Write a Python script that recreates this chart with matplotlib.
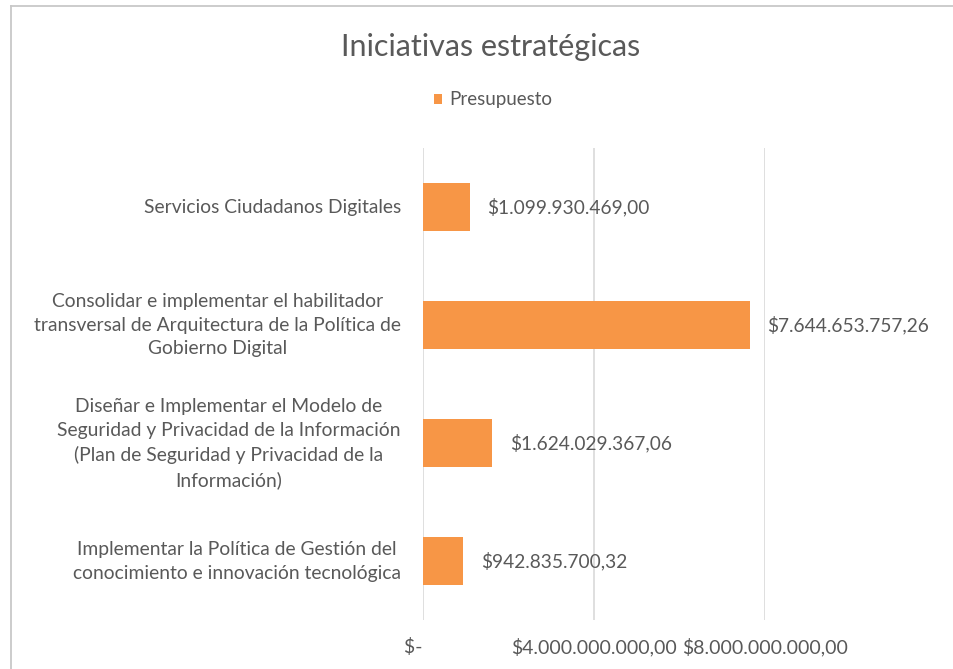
import matplotlib
matplotlib.use("Agg")
import matplotlib.pyplot as plt
from matplotlib.lines import Line2D
from matplotlib.transforms import ScaledTranslation

# Data
categories = [
    "Servicios Ciudadanos Digitales",
    "Consolidar e implementar el habilitador\ntransversal de Arquitectura de la Política de\nGobierno Digital",
    "Diseñar e Implementar el Modelo de\nSeguridad y Privacidad de la Información\n(Plan de Seguridad y Privacidad de la\nInformación)",
    "Implementar la Política de Gestión del\nconocimiento e innovación tecnológica",
]
presupuesto = [1099930469.00, 7644653757.26, 1624029367.06, 942835700.32]
value_labels = ["$1.099.930.469,00", "$7.644.653.757,26", "$1.624.029.367,06", "$942.835.700,32"]
x_ticks = [0, 4e9, 8e9]
x_tick_labels = ["$-    ", "$4.000.000.000,00", "$8.000.000.000,00"]
series_name = "Presupuesto"
title = "Iniciativas estratégicas"

W, H = 954, 669
FONT = "Lato"
TEXT = "#595959"
ORANGE = "#F79646"
GRID = "#D9D9D9"

plt.rcParams["font.family"] = [FONT, "DejaVu Sans"]

fig = plt.figure(figsize=(W / 100, H / 100), dpi=100)
fig.patch.set_facecolor("white")

# plot area in pixel terms
left, right, top, bottom = 423, 765, 148, 620
ax = fig.add_axes([left / W, 1 - bottom / H, (right - left) / W, (bottom - top) / H])

ypos = list(range(len(categories)))
bars = ax.barh(ypos, presupuesto, height=0.41, color=ORANGE, label=series_name, zorder=3)

ax.set_xlim(0, 8e9)
ax.set_ylim(len(categories) - 0.5, -0.5)
ax.set_xticks(x_ticks, x_tick_labels, fontsize=14, color=TEXT)
ax.set_yticks(ypos, categories, fontsize=13.9, color=TEXT, multialignment="center",
              linespacing=1.47)
ax.tick_params(axis="both", length=0)
ax.tick_params(axis="y", pad=16)
ax.tick_params(axis="x", pad=13)
ax.grid(axis="x", color=GRID, linewidth=1.2, zorder=0)
for s in ax.spines.values():
    s.set_visible(False)

# nudge category labels slightly upward (less for single-line labels)
for lab in ax.get_yticklabels():
    dy = 4.5 if "\n" in lab.get_text() else 1.5
    lab.set_transform(lab.get_transform() + ScaledTranslation(0, dy / 100, fig.dpi_scale_trans))

for bar, lab in zip(bars, value_labels):
    ax.annotate(lab, xy=(bar.get_width(), bar.get_y() + bar.get_height() / 2),
                xytext=(12.5, 0), textcoords="offset points", ha="left", va="center",
                fontsize=13.8, color=TEXT, annotation_clip=False)

fig.text(0.5 * (340 + 642) / W, 1 - 47 / H, title, ha="center", va="center",
         fontsize=22, color=TEXT, fontweight="normal")

fig.legend(handles=[bars], labels=[series_name], loc="center",
           bbox_to_anchor=(493 / W, 1 - 100 / H), frameon=False, fontsize=13.5,
           handlelength=0.45, handleheight=0.45, handletextpad=0.35,
           labelcolor=TEXT)

# chart frame
fig.add_artist(Line2D([11.5 / W, 11.5 / W], [0, 1 - 5.5 / H], transform=fig.transFigure,
                      color="#C8C8C8", linewidth=1.3))
fig.add_artist(Line2D([11.5 / W, 1], [1 - 5.5 / H, 1 - 5.5 / H], transform=fig.transFigure,
                      color="#C8C8C8", linewidth=1.3))

fig.savefig("out.png", dpi=100, facecolor="white")
